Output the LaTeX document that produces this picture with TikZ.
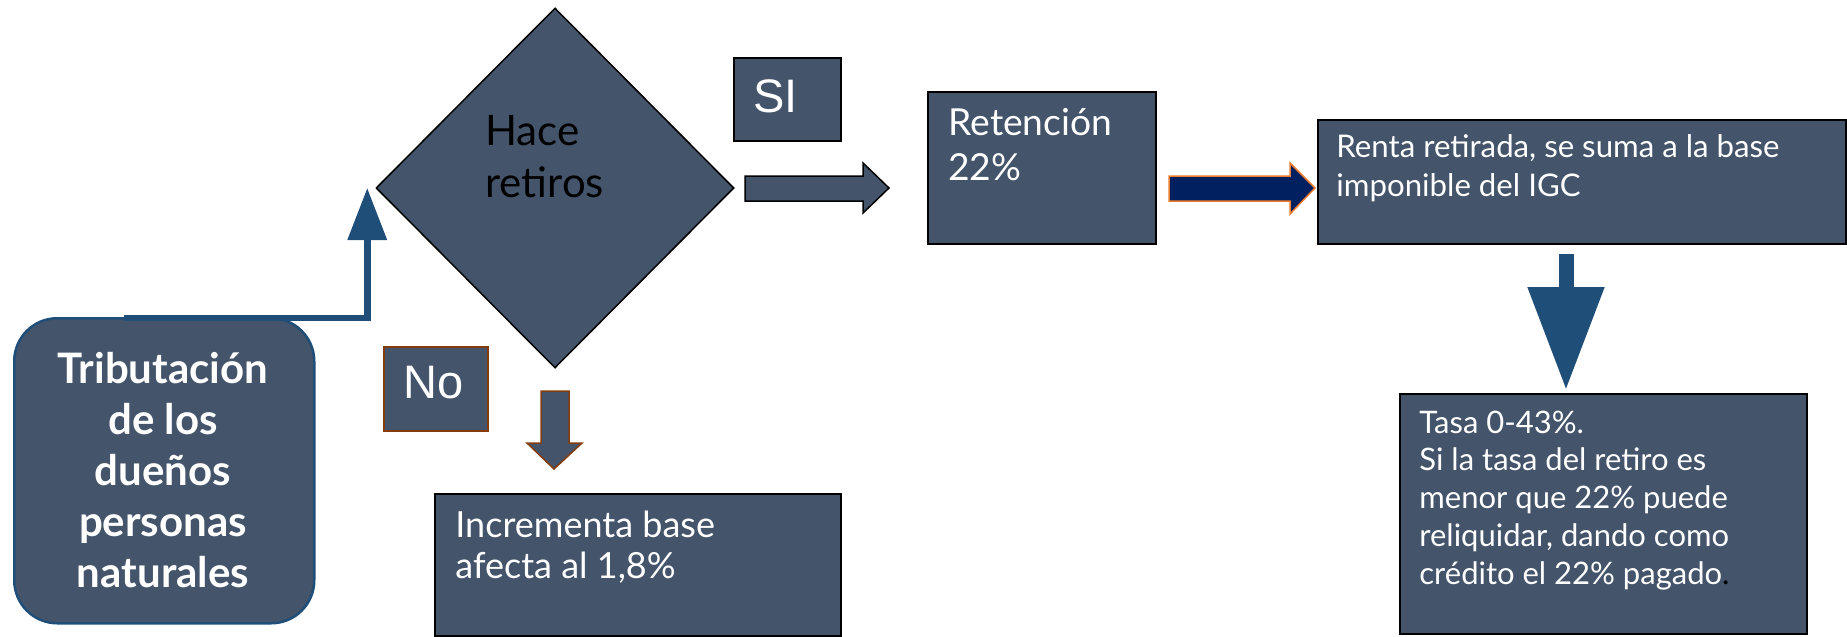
\documentclass[tikz,border=0pt]{standalone}
\usepackage{fontspec}
\setmainfont{Lato}
\newfontfamily\arialf{Liberation Sans}
\usetikzlibrary{arrows.meta,shapes.geometric,calc}
\definecolor{cSlate}{HTML}{44546A}
\definecolor{cDarkBlue}{HTML}{1F4E79}
\definecolor{cNavy}{HTML}{002060}
\definecolor{cBrown}{HTML}{843C0C}
\definecolor{cOrange}{HTML}{ED7D31}
\begin{document}
\begin{tikzpicture}[x=0.5pt,y=-0.5pt,
  box/.style={draw=black, line width=1pt, fill=cSlate, anchor=north west, inner sep=0pt},
  txt/.style={text=white, anchor=base west, align=left, inner sep=0pt},
  blockarrow/.style={fill=cSlate, draw=black, line width=0.75pt, line join=miter}]
\useasboundingbox (0,0) rectangle (1847,637);

% boxes
\node[box, draw=cDarkBlue, line width=1.25pt, rounded corners=21.5pt,
      minimum width=150pt, minimum height=152.5pt] (trib) at (13,317) {};
\node[diamond, draw=black, fill=cSlate, line width=0.75pt, aspect=1,
      minimum width=179pt, minimum height=180pt, inner sep=0pt] (dec) at (555,188) {};
\node[box, minimum width=53.5pt, minimum height=41.5pt] (si) at (733,57) {};
\node[box, draw=cBrown, minimum width=52pt, minimum height=42pt] (no) at (383,346) {};
\node[box, minimum width=114pt, minimum height=76pt] (ret) at (927,91) {};
\node[box, minimum width=203pt, minimum height=71pt] (inc) at (434,493) {};
\node[box, minimum width=264pt, minimum height=62pt] (renta) at (1317,119) {};
\node[box, minimum width=203.5pt, minimum height=120pt] (tasa) at (1399,393) {};

% texts (anchored at the baseline of their last line)
\node[text=white, align=center, anchor=base, inner sep=0pt,
      font=\bfseries\fontsize{21}{25.5}\selectfont] (tribt) at (163,587)
      {Tributación\\de los\\dueños\\personas\\naturales};
\node[anchor=base west, align=left, inner sep=0pt, text=black,
      font=\fontsize{21}{26}\selectfont] (dect) at (485,197) {Hace\\retiros};
\node[txt, font=\arialf\fontsize{23.5}{28}\selectfont] (sit) at (753,112) {SI};
\node[txt, font=\arialf\fontsize{23.5}{28}\selectfont] (not) at (403,398) {No};
\node[txt, font=\fontsize{18.6}{22.5}\selectfont] (rett) at (948,180) {Retención\\22\%};
\node[txt, font=\fontsize{18}{20.5}\selectfont] (inct) at (455,578) {Incrementa base\\afecta al 1,8\%};
\node[txt, font=\fontsize{15.6}{19.5}\selectfont] (rentat) at (1336,196)
      {Renta retirada, se suma a la base\\imponible del IGC};
\node[txt, font=\fontsize{15.5}{18.875}\selectfont] (tasat) at (1419,584)
      {Tasa 0-43\%.\\Si la tasa del retiro es\\menor que 22\% puede\\reliquidar, dando como\\crédito el 22\% pagado\textcolor{black}{.}};

% connectors
\draw[cDarkBlue, line width=3.35pt, -{Triangle[width=19pt,length=26pt]}]
  ($(trib.north west)+(111,1)$) -| ($(dec.west)+(-8,0)$);
\filldraw[blockarrow] (745,176) -- (863,176) -- (863,163) -- (889,188) -- (863,213) -- (863,201) -- (745,201) -- cycle;
\filldraw[fill=cNavy, draw=cOrange, line width=0.75pt, line join=miter]
  (1169,176) -- (1290,176) -- (1290,163) -- (1315,188) -- (1290,214) -- (1290,201) -- (1169,201) -- cycle;
\filldraw[fill=cSlate, draw=cBrown, line width=0.75pt, line join=miter]
  (541,391) -- (569,391) -- (569,443) -- (582,443) -- (554,469) -- (527,443) -- (541,443) -- cycle;
\draw[cDarkBlue, line width=7.5pt, -{Triangle[width=36.5pt,length=51.5pt]}]
  ($(renta.south west)+(249,9)$) -- ($(tasa.north west)+(167,-3)$);
\end{tikzpicture}
\end{document}
